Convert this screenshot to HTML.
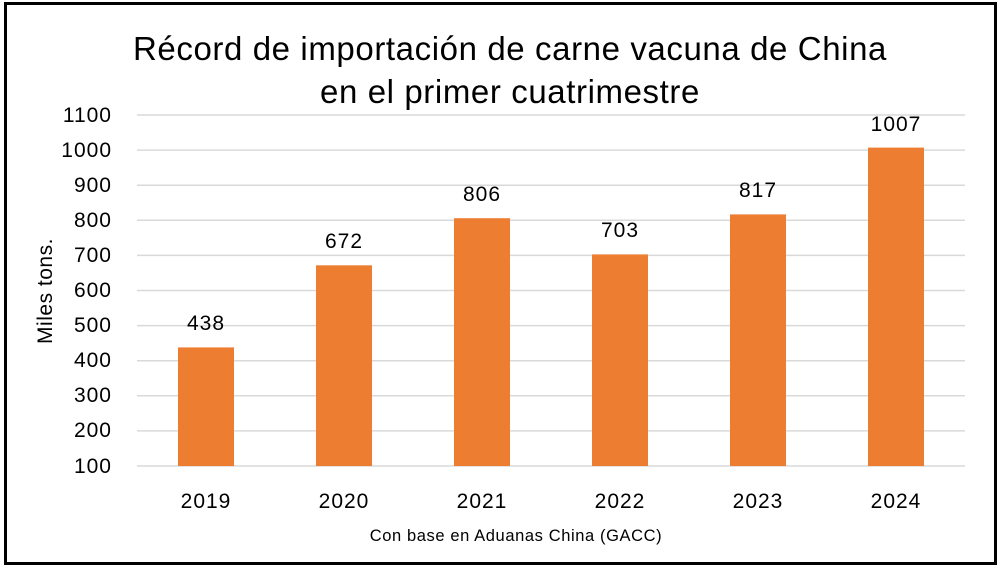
<!DOCTYPE html>
<html><head><meta charset="utf-8"><style>
html,body{margin:0;padding:0;background:#fff}
svg{display:block}
text{font-family:"Liberation Sans",sans-serif;fill:#000}
</style></head><body>
<svg width="1000" height="566" viewBox="0 0 1000 566">
<rect x="5.5" y="3.5" width="990" height="560" fill="#fff" stroke="#000" stroke-width="3"/>
<text x="510" y="60" font-size="33" letter-spacing="0.6" text-anchor="middle">Récord de importación de carne vacuna de China</text>
<text x="510" y="103" font-size="33" letter-spacing="0.6" text-anchor="middle">en el primer cuatrimestre</text>
<g stroke="#d9d9d9" stroke-width="1.5">
<line x1="137" x2="965" y1="115" y2="115"/><line x1="137" x2="965" y1="150.1" y2="150.1"/>
<line x1="137" x2="965" y1="185.2" y2="185.2"/><line x1="137" x2="965" y1="220.3" y2="220.3"/>
<line x1="137" x2="965" y1="255.4" y2="255.4"/><line x1="137" x2="965" y1="290.5" y2="290.5"/>
<line x1="137" x2="965" y1="325.6" y2="325.6"/><line x1="137" x2="965" y1="360.7" y2="360.7"/>
<line x1="137" x2="965" y1="395.8" y2="395.8"/><line x1="137" x2="965" y1="430.9" y2="430.9"/>
<line x1="137" x2="965" y1="466" y2="466"/>
</g>
<g font-size="21" letter-spacing="1" text-anchor="end">
<text x="112" y="122">1100</text><text x="112" y="157">1000</text><text x="112" y="192">900</text>
<text x="112" y="227">800</text><text x="112" y="262">700</text><text x="112" y="297">600</text>
<text x="112" y="332">500</text><text x="112" y="367">400</text><text x="112" y="402">300</text>
<text x="112" y="437">200</text><text x="112" y="473">100</text>
</g>
<text transform="translate(52,291) rotate(-90)" font-size="21" letter-spacing="0.5" text-anchor="middle">Miles tons.</text>
<g fill="#ed7d31">
<rect x="178" y="347.4" width="56" height="118.6"/>
<rect x="316" y="265.3" width="56" height="200.7"/>
<rect x="454" y="218.2" width="56" height="247.8"/>
<rect x="592" y="254.4" width="56" height="211.6"/>
<rect x="730" y="214.4" width="56" height="251.6"/>
<rect x="868" y="147.6" width="56" height="318.4"/>
</g>
<g font-size="21" letter-spacing="1" text-anchor="middle">
<text x="206" y="330">438</text><text x="344" y="248">672</text><text x="482" y="201">806</text>
<text x="620" y="237">703</text><text x="758" y="197">817</text><text x="896" y="131">1007</text>
<text x="206" y="508">2019</text><text x="344" y="508">2020</text><text x="482" y="508">2021</text>
<text x="620" y="508">2022</text><text x="758" y="508">2023</text><text x="896" y="508">2024</text>
</g>
<text x="516" y="541" font-size="16.5" letter-spacing="0.6" text-anchor="middle">Con base en Aduanas China (GACC)</text>
</svg>
</body></html>
